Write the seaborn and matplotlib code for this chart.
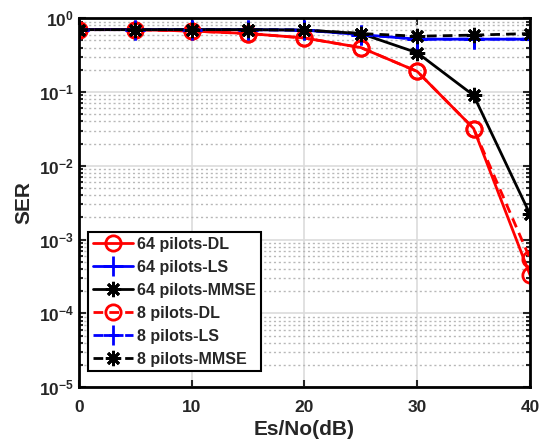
import numpy as np
import pandas as pd
import matplotlib
matplotlib.use("Agg")
import matplotlib.pyplot as plt
import seaborn as sns
from matplotlib.ticker import LogLocator, FuncFormatter, NullFormatter

snr = [0, 5, 10, 15, 20, 25, 30, 35, 40]

dl_64 = [0.70, 0.70, 0.67, 0.62, 0.54, 0.40, 0.19, 0.032, 0.00033]
ls_64 = [0.70, 0.70, 0.70, 0.70, 0.69, 0.60, 0.52, 0.52, 0.52]
mmse_64 = [0.70, 0.70, 0.70, 0.70, 0.69, 0.62, 0.34, 0.090, 0.0022]
dl_8 = [0.70, 0.70, 0.67, 0.62, 0.54, 0.40, 0.19, 0.032, 0.00055]
ls_8 = [0.70, 0.70, 0.70, 0.70, 0.69, 0.60, 0.52, 0.52, 0.52]
mmse_8 = [0.70, 0.70, 0.70, 0.70, 0.69, 0.62, 0.57, 0.59, 0.62]

labels = ["64 pilots-DL", "64 pilots-LS", "64 pilots-MMSE",
          "8 pilots-DL", "8 pilots-LS", "8 pilots-MMSE"]
series = [dl_64, ls_64, mmse_64, dl_8, ls_8, mmse_8]

sns.set_theme(style="ticks")
plt.rcParams['font.family'] = ['Liberation Sans', 'DejaVu Sans']
plt.rcParams['font.weight'] = 'bold'
plt.rcParams['mathtext.fontset'] = 'custom'
plt.rcParams['mathtext.bf'] = 'Liberation Sans:bold'
plt.rcParams['mathtext.rm'] = 'Liberation Sans:bold'

star = (8, 2, 0)
dash = (0, (3.5, 2.2))
# (color, linestyle, marker, size, face)
styles = {
    "64 pilots-DL": ("red", "-", "o", 11, "none"),
    "64 pilots-LS": ("blue", "-", "+", 14, "blue"),
    "64 pilots-MMSE": ("black", "-", star, 11, "black"),
    "8 pilots-DL": ("red", dash, "o", 11, "none"),
    "8 pilots-LS": ("blue", dash, "+", 14, "blue"),
    "8 pilots-MMSE": ("black", dash, star, 11, "black"),
}

fig = plt.figure(figsize=(5.47, 4.44), dpi=100)
ax = fig.add_axes([0.144, 0.128, 0.825, 0.831])

for lab, vals in zip(labels, series):
    c, lsty, mk, size, face = styles[lab]
    sns.lineplot(x=snr, y=vals, ax=ax, label=lab, color=c, linewidth=2,
                 marker=mk, markersize=size,
                 markerfacecolor=face, markeredgecolor=c, markeredgewidth=2)

ax.set_yscale("log")
ax.set_xlim(0, 40)
ax.set_ylim(1e-5, 1)
ax.set_xticks([0, 10, 20, 30, 40])
ax.yaxis.set_major_locator(LogLocator(base=10, numticks=10))
ax.yaxis.set_minor_locator(LogLocator(base=10, subs=np.arange(2, 10), numticks=10))
ax.yaxis.set_major_formatter(FuncFormatter(lambda v, p: r"$\mathbf{10^{%d}}$" % round(np.log10(v))))
ax.yaxis.set_minor_formatter(NullFormatter())

ax.grid(True, which="major", color="#dcdcdc", lw=1.2, ls="-")
ax.grid(True, which="minor", axis="y", color="#b8b8b8", lw=1.0, ls=(0, (1.5, 2)))
ax.set_axisbelow(True)

ax.tick_params(which="both", direction="in", top=True, right=True, labelsize=12.5, width=1.5)
ax.tick_params(which="major", length=5)
ax.tick_params(which="minor", length=3)
ax.tick_params(axis="x", pad=9)
for s in ax.spines.values():
    s.set_linewidth(2)
    s.set_color("black")

ax.set_xlabel("Es/No(dB)", fontsize=15, fontweight="bold", labelpad=4)
ax.set_ylabel("SER", fontsize=15, fontweight="bold", labelpad=4)

leg = ax.legend(loc="lower left", bbox_to_anchor=(0.02, 0.043), fontsize=11.5,
                frameon=True, fancybox=False, edgecolor="black", handlelength=2.5,
                borderpad=0.3, labelspacing=0.5, handletextpad=0.3, borderaxespad=0)
leg.get_frame().set_linewidth(1.5)
leg.get_frame().set_alpha(1)

# seaborn resets the dash pattern, so apply the line styles afterwards
for line in ax.get_lines():
    lab = line.get_label()
    if lab in styles:
        line.set_linestyle(styles[lab][1])
for line, text in zip(leg.get_lines(), leg.get_texts()):
    line.set_linestyle(styles[text.get_text()][1])

fig.savefig("out.png", dpi=100)
